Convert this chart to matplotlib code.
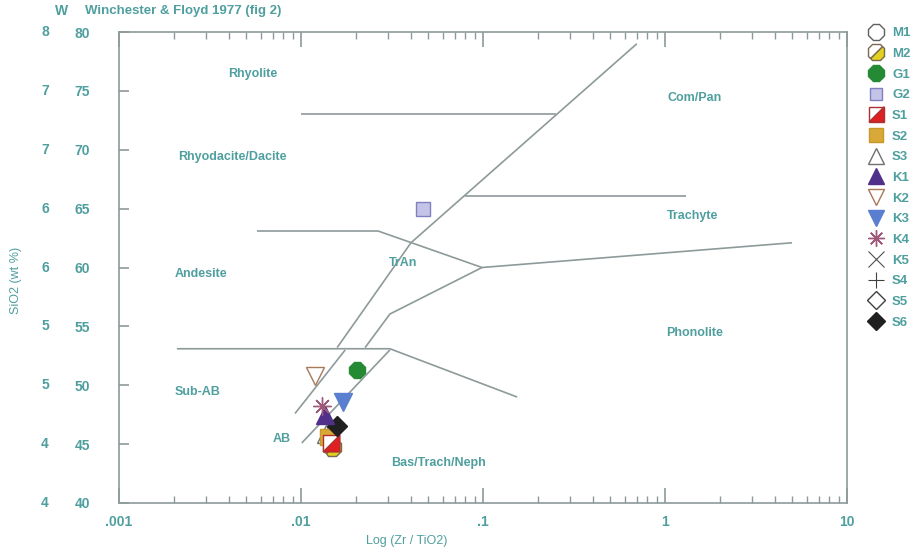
import numpy as np
import matplotlib
matplotlib.use("Agg")
import matplotlib.pyplot as plt
from matplotlib.markers import MarkerStyle
from matplotlib.transforms import Affine2D, blended_transform_factory
from matplotlib.ticker import LogLocator, NullFormatter, FixedLocator

plt.rcParams['font.family'] = ['Liberation Sans', 'DejaVu Sans']
plt.rcParams['font.weight'] = 'bold'

TEAL = '#4f9f9f'
LINE = '#8e9a9a'

# Winchester & Floyd (1977) field boundaries: (Zr/TiO2, SiO2) vertices
b_73 = ([0.0100, 0.252], [73.0, 73.0])
b_main_upper = ([0.700, 0.0402, 0.0158], [79.0, 62.1, 53.2])
b_trachyte = ([0.0796, 1.30], [66.1, 66.1])
b_63 = ([0.00573, 0.0265, 0.0988, 4.99], [63.1, 63.1, 60.0, 62.1])
b_tran_lower = ([0.0988, 0.0308, 0.0225], [60.0, 56.05, 53.2])
b_53 = ([0.00208, 0.0308, 0.154], [53.1, 53.1, 49.0])
b_subab = ([0.0175, 0.00927], [53.0, 47.6])
b_ab = ([0.0308, 0.0101], [53.0, 45.1])
boundaries = [b_73, b_main_upper, b_trachyte, b_63, b_tran_lower, b_53, b_subab, b_ab]

# field names and where they sit
fields = ['Rhyolite', 'Com/Pan', 'Rhyodacite/Dacite', 'Trachyte', 'TrAn',
          'Andesite', 'Phonolite', 'Sub-AB', 'AB', 'Bas/Trach/Neph']
field_x = [0.00545, 1.46, 0.00418, 1.42, 0.0363, 0.00282, 1.46, 0.00272, 0.00787, 0.0573]
field_y = [76.4, 74.4, 69.4, 64.4, 60.4, 59.45, 54.4, 49.4, 45.4, 43.4]

# samples: Zr/TiO2 and SiO2 (wt %)
zr_tio2 = {'M1': [0.0148], 'M2': [0.0148], 'G1': [0.0203], 'G2': [0.0468],
           'S1': [0.0146], 'S2': [0.0141], 'S3': [0.0138], 'K1': [0.0136],
           'K2': [0.0119], 'K3': [0.0171], 'K4': [0.0130], 'K5': [],
           'S4': [], 'S5': [], 'S6': [0.0158]}
sio2 = {'M1': [44.75], 'M2': [44.75], 'G1': [51.3], 'G2': [65.0],
        'S1': [45.1], 'S2': [45.6], 'S3': [45.9], 'K1': [47.5],
        'K2': [50.8], 'K3': [48.6], 'K4': [48.2], 'K5': [],
        'S4': [], 'S5': [], 'S6': [46.5]}

yticks = [40, 45, 50, 55, 60, 65, 70, 75, 80]
xticks = [0.001, 0.01, 0.1, 1, 10]
xticklabels = ['.001', '.01', '.1', '1', '10']

fig = plt.figure(figsize=(9.19, 5.52), dpi=100)
ax = fig.add_axes([119 / 919, 1 - 503 / 552, 728 / 919, 471 / 552])
ax.set_xscale('log')
ax.set_xlim(0.001, 10)
ax.set_ylim(40, 80)

for bx, by in boundaries:
    ax.plot(bx, by, color=LINE, lw=1.2, solid_capstyle='butt', zorder=1)

for name, fx, fy in zip(fields, field_x, field_y):
    ax.text(fx, fy, name, color=TEAL, fontsize=9, ha='center', va='center')

ms = 13
tri_lr = MarkerStyle(np.array([[-1, -1], [1, -1], [1, 1], [-1, -1]]))
split_oct = MarkerStyle('8', fillstyle='bottom', transform=Affine2D().rotate_deg(45))

styles = {
    'M1': dict(marker='8', mfc='white', mec='#606060'),
    'M2': dict(marker=split_oct, mfc='#e0d020', mfcalt='white', mec='#7a6a50'),
    'G1': dict(marker='8', mfc='#248a34', mec='#248a34'),
    'G2': dict(marker='s', mfc='#c4c4e8', mec='#8080c0', ms=ms - 3),
    'S2': dict(marker='s', mfc='#d8a838', mec='#c89828', ms=ms - 2),
    'S3': dict(marker='^', mfc='none', mec='#707070'),
    'K1': dict(marker='^', mfc='#50308a', mec='#50308a'),
    'K2': dict(marker='v', mfc='none', mec='#a87858'),
    'K3': dict(marker='v', mfc='#5a7ed0', mec='#5a7ed0'),
    'K4': dict(marker=(8, 2, 0), mec='#a05878', mew=1.0),
    'K5': dict(marker='x', mec='#505050', mew=0.8),
    'S4': dict(marker='+', mec='#404040', mew=0.8),
    'S5': dict(marker='D', mfc='white', mec='#404040', ms=ms - 3),
    'S6': dict(marker='D', mfc='#202020', mec='#202020', ms=ms - 3),
}

# drawing order: later samples sit on top in the crowded basalt cluster
order = ['M1', 'M2', 'S3', 'S2', 'S1', 'S6', 'K1', 'K3', 'K4', 'K2', 'G1', 'G2', 'K5', 'S4', 'S5']
made = {}
for key in order:
    if key == 'S1':
        h1, = ax.plot(zr_tio2[key], sio2[key], ls='none', marker='s', ms=ms - 1,
                      mfc='white', mec='#b03030', mew=1.0, zorder=3)
        h2, = ax.plot(zr_tio2[key], sio2[key], ls='none', marker=tri_lr, ms=ms - 1,
                      mfc='#e02020', mec='#b03030', mew=1.0, zorder=3)
        made[key] = (h1, h2)
        continue
    st = dict(styles[key])
    size = st.pop('ms', ms)
    alt = st.pop('mfcalt', None)
    h, = ax.plot(zr_tio2[key], sio2[key], ls='none', ms=size, mew=st.pop('mew', 1.0),
                 zorder=3, **st)
    if alt is not None:
        h.set_markerfacecoloralt(alt)
    made[key] = h

# axis styling
for side in ['left', 'bottom', 'top', 'right']:
    ax.spines[side].set_color(LINE)
    ax.spines[side].set_linewidth(1.2)
ax.xaxis.set_major_locator(FixedLocator(xticks))
ax.xaxis.set_minor_locator(LogLocator(base=10, subs=np.arange(2, 10)))
ax.xaxis.set_minor_formatter(NullFormatter())
ax.set_xticklabels(xticklabels)
ax.tick_params(axis='x', which='major', direction='in', length=11, width=1.2, color=LINE,
               top=True, labelcolor=TEAL, labelsize=10, pad=9)
ax.tick_params(axis='x', which='minor', direction='in', length=5, width=1.0, color=LINE, top=True)
ax.set_yticks(yticks)
ax.set_yticklabels([str(v) for v in yticks])
ax.tick_params(axis='y', direction='in', length=7, width=1.2, color=LINE, right=False,
               labelcolor=TEAL, labelsize=10, pad=21)

# second column of the y scale
tr = blended_transform_factory(fig.transFigure, ax.transData)
for v in yticks:
    fig.text(45 / 919, v, str(v // 10), transform=tr, color=TEAL, fontsize=10,
             ha='center', va='center')

fig.text(62 / 919, 1 - 11 / 552, 'W', color=TEAL, fontsize=10, ha='center', va='center')
fig.text(85 / 919, 1 - 11 / 552, 'Winchester & Floyd 1977 (fig 2)', color=TEAL,
         fontsize=9.5, ha='left', va='center')
fig.text(407 / 919, 1 - 541 / 552, 'Log (Zr / TiO2)', color=TEAL, fontsize=9,
         ha='center', va='center', fontweight='normal')
fig.text(16 / 919, 1 - 280 / 552, 'SiO2 (wt %)', color=TEAL, fontsize=9,
         ha='center', va='center', rotation=90, fontweight='normal')

legend_keys = ['M1', 'M2', 'G1', 'G2', 'S1', 'S2', 'S3', 'K1', 'K2', 'K3', 'K4', 'K5', 'S4', 'S5', 'S6']
leg = fig.legend([made[k] for k in legend_keys], legend_keys,
                 loc='upper left', bbox_to_anchor=(867 / 919, 1 - 27 / 552),
                 frameon=False, fontsize=9.5, handlelength=1.3, handletextpad=0.6,
                 labelspacing=0.64, borderpad=0, borderaxespad=0, numpoints=1,
                 markerscale=0.9)
for t in leg.get_texts():
    t.set_color(TEAL)

fig.savefig('out.png', dpi=100)
